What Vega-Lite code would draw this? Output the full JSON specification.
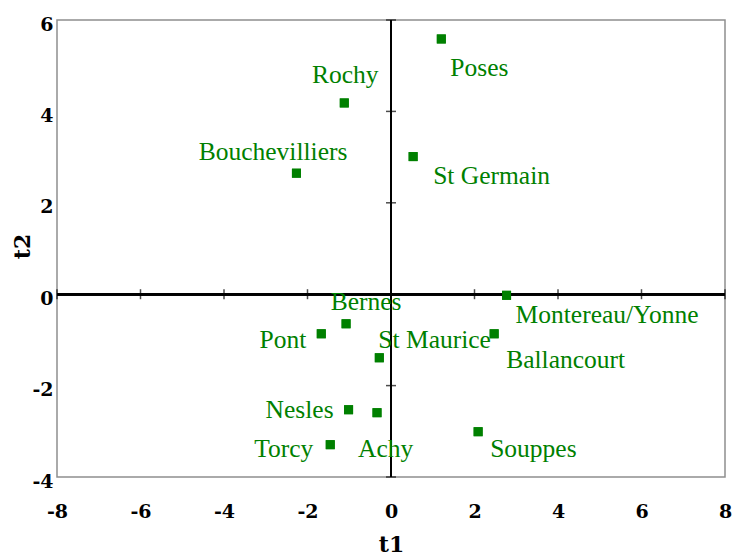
{
  "$schema": "https://vega.github.io/schema/vega-lite/v6.json",
  "autosize": "none",
  "width": 668,
  "height": 457,
  "padding": {"left": 57, "top": 20, "right": 8, "bottom": 78},
  "background": "white",
  "config": {
    "view": {"stroke": "#8f8f8f", "strokeWidth": 1.5},
    "font": "Liberation Serif"
  },
  "datasets": {
    "pts": [
      {"name": "Poses", "t1": 1.205, "t2": 5.585},
      {"name": "Rochy", "t1": -1.119, "t2": 4.185},
      {"name": "Bouchevilliers", "t1": -2.265, "t2": 2.648},
      {"name": "St Germain", "t1": 0.53, "t2": 3.011},
      {"name": "Montereau/Yonne", "t1": 2.768, "t2": -0.024},
      {"name": "Ballancourt", "t1": 2.471, "t2": -0.866},
      {"name": "Bernes", "t1": -1.076, "t2": -0.647},
      {"name": "Pont", "t1": -1.67, "t2": -0.866},
      {"name": "St Maurice", "t1": -0.28, "t2": -1.391},
      {"name": "Nesles", "t1": -1.016, "t2": -2.528},
      {"name": "Achy", "t1": -0.335, "t2": -2.593},
      {"name": "Torcy", "t1": -1.455, "t2": -3.293},
      {"name": "Souppes", "t1": 2.087, "t2": -3.009}
    ],
    "xt": [{"v": -8}, {"v": -6}, {"v": -4}, {"v": -2}, {"v": 2}, {"v": 4}, {"v": 6}, {"v": 8}],
    "yt": [{"v": -4}, {"v": -2}, {"v": 2}, {"v": 4}, {"v": 6}]
  },
  "data": {"name": "pts"},
  "layer": [
    {
      "mark": {"type": "point", "shape": "square", "filled": true, "size": 81, "color": "#008000", "opacity": 1},
      "encoding": {
        "x": {"field": "t1", "type": "quantitative", "scale": {"domain": [-8, 8], "nice": false, "zero": false}, "axis": {
          "title": "t1", "values": [-8, -6, -4, -2, 0, 2, 4, 6, 8], "domain": false, "ticks": false, "grid": false,
          "labelExpr": "'' + datum.value",
          "labelFont": "DejaVu Serif", "labelFontSize": 19, "labelFontWeight": "bold", "labelColor": "black",
          "labelPadding": 25, "labelFlush": false,
          "titleFont": "DejaVu Serif", "titleFontSize": 22, "titleFontWeight": "bold", "titleColor": "black", "titlePadding": 13
        }},
        "y": {"field": "t2", "type": "quantitative", "scale": {"domain": [-4, 6], "nice": false, "zero": false}, "axis": {
          "title": "t2", "values": [-4, -2, 0, 2, 4, 6], "domain": false, "ticks": false, "grid": false,
          "labelExpr": "'' + datum.value",
          "labelFont": "DejaVu Serif", "labelFontSize": 19, "labelFontWeight": "bold", "labelColor": "black",
          "labelPadding": 4, "labelOffset": 4, "labelFlush": false,
          "titleFont": "DejaVu Serif", "titleFontSize": 22, "titleFontWeight": "bold", "titleColor": "black",
          "titleX": -35, "titleY": 226, "titleBaseline": "middle", "titleAngle": -90
        }}
      }
    },
    {
      "mark": {"type": "rule", "color": "black", "strokeWidth": 2},
      "encoding": {"x": {"datum": 0, "type": "quantitative"}}
    },
    {
      "mark": {"type": "rule", "color": "black", "strokeWidth": 2},
      "encoding": {"y": {"datum": 0, "type": "quantitative"}}
    },
    {
      "data": {"name": "xt"},
      "mark": {"type": "tick", "orient": "vertical", "size": 10, "thickness": 1.5, "color": "black"},
      "encoding": {
        "x": {"field": "v", "type": "quantitative"},
        "y": {"datum": 0, "type": "quantitative"}
      }
    },
    {
      "data": {"name": "yt"},
      "mark": {"type": "tick", "orient": "horizontal", "size": 10, "thickness": 1.5, "color": "black"},
      "encoding": {
        "y": {"field": "v", "type": "quantitative"},
        "x": {"datum": 0, "type": "quantitative"}
      }
    },
    {
      "mark": {"type": "point", "shape": "square", "filled": true, "size": 81, "color": "#008000", "opacity": 1},
      "encoding": {"x": {"field": "t1", "type": "quantitative"}, "y": {"field": "t2", "type": "quantitative"}}
    },
    {"transform": [{"filter": "datum.name === 'Poses'"}], "mark": {"type": "text", "align": "left", "baseline": "alphabetic", "dx": 9, "dy": 37, "fontSize": 25.5, "font": "Liberation Serif", "color": "#008000"}, "encoding": {"x": {"field": "t1", "type": "quantitative"}, "y": {"field": "t2", "type": "quantitative"}, "text": {"field": "name"}}},
    {"transform": [{"filter": "datum.name === 'Rochy'"}], "mark": {"type": "text", "align": "center", "baseline": "alphabetic", "dx": 1, "dy": -20, "fontSize": 25.5, "font": "Liberation Serif", "color": "#008000"}, "encoding": {"x": {"field": "t1", "type": "quantitative"}, "y": {"field": "t2", "type": "quantitative"}, "text": {"field": "name"}}},
    {"transform": [{"filter": "datum.name === 'Bouchevilliers'"}], "mark": {"type": "text", "align": "right", "baseline": "alphabetic", "dx": 51, "dy": -13, "fontSize": 25.5, "font": "Liberation Serif", "color": "#008000"}, "encoding": {"x": {"field": "t1", "type": "quantitative"}, "y": {"field": "t2", "type": "quantitative"}, "text": {"field": "name"}}},
    {"transform": [{"filter": "datum.name === 'St Germain'"}], "mark": {"type": "text", "align": "left", "baseline": "alphabetic", "dx": 20, "dy": 27, "fontSize": 25.5, "font": "Liberation Serif", "color": "#008000"}, "encoding": {"x": {"field": "t1", "type": "quantitative"}, "y": {"field": "t2", "type": "quantitative"}, "text": {"field": "name"}}},
    {"transform": [{"filter": "datum.name === 'Montereau/Yonne'"}], "mark": {"type": "text", "align": "left", "baseline": "alphabetic", "dx": 9, "dy": 28, "fontSize": 25.5, "font": "Liberation Serif", "color": "#008000"}, "encoding": {"x": {"field": "t1", "type": "quantitative"}, "y": {"field": "t2", "type": "quantitative"}, "text": {"field": "name"}}},
    {"transform": [{"filter": "datum.name === 'Ballancourt'"}], "mark": {"type": "text", "align": "left", "baseline": "alphabetic", "dx": 12, "dy": 34, "fontSize": 25.5, "font": "Liberation Serif", "color": "#008000"}, "encoding": {"x": {"field": "t1", "type": "quantitative"}, "y": {"field": "t2", "type": "quantitative"}, "text": {"field": "name"}}},
    {"transform": [{"filter": "datum.name === 'Bernes'"}], "mark": {"type": "text", "align": "center", "baseline": "alphabetic", "dx": 20, "dy": -14, "fontSize": 25.5, "font": "Liberation Serif", "color": "#008000"}, "encoding": {"x": {"field": "t1", "type": "quantitative"}, "y": {"field": "t2", "type": "quantitative"}, "text": {"field": "name"}}},
    {"transform": [{"filter": "datum.name === 'Pont'"}], "mark": {"type": "text", "align": "right", "baseline": "alphabetic", "dx": -15, "dy": 14, "fontSize": 25.5, "font": "Liberation Serif", "color": "#008000"}, "encoding": {"x": {"field": "t1", "type": "quantitative"}, "y": {"field": "t2", "type": "quantitative"}, "text": {"field": "name"}}},
    {"transform": [{"filter": "datum.name === 'St Maurice'"}], "mark": {"type": "text", "align": "left", "baseline": "alphabetic", "dx": -1, "dy": -10, "fontSize": 25.5, "font": "Liberation Serif", "color": "#008000"}, "encoding": {"x": {"field": "t1", "type": "quantitative"}, "y": {"field": "t2", "type": "quantitative"}, "text": {"field": "name"}}},
    {"transform": [{"filter": "datum.name === 'Nesles'"}], "mark": {"type": "text", "align": "right", "baseline": "alphabetic", "dx": -15, "dy": 8, "fontSize": 25.5, "font": "Liberation Serif", "color": "#008000"}, "encoding": {"x": {"field": "t1", "type": "quantitative"}, "y": {"field": "t2", "type": "quantitative"}, "text": {"field": "name"}}},
    {"transform": [{"filter": "datum.name === 'Achy'"}], "mark": {"type": "text", "align": "left", "baseline": "alphabetic", "dx": -19, "dy": 44, "fontSize": 25.5, "font": "Liberation Serif", "color": "#008000"}, "encoding": {"x": {"field": "t1", "type": "quantitative"}, "y": {"field": "t2", "type": "quantitative"}, "text": {"field": "name"}}},
    {"transform": [{"filter": "datum.name === 'Torcy'"}], "mark": {"type": "text", "align": "right", "baseline": "alphabetic", "dx": -17, "dy": 12, "fontSize": 25.5, "font": "Liberation Serif", "color": "#008000"}, "encoding": {"x": {"field": "t1", "type": "quantitative"}, "y": {"field": "t2", "type": "quantitative"}, "text": {"field": "name"}}},
    {"transform": [{"filter": "datum.name === 'Souppes'"}], "mark": {"type": "text", "align": "left", "baseline": "alphabetic", "dx": 12, "dy": 25, "fontSize": 25.5, "font": "Liberation Serif", "color": "#008000"}, "encoding": {"x": {"field": "t1", "type": "quantitative"}, "y": {"field": "t2", "type": "quantitative"}, "text": {"field": "name"}}}
  ]
}
